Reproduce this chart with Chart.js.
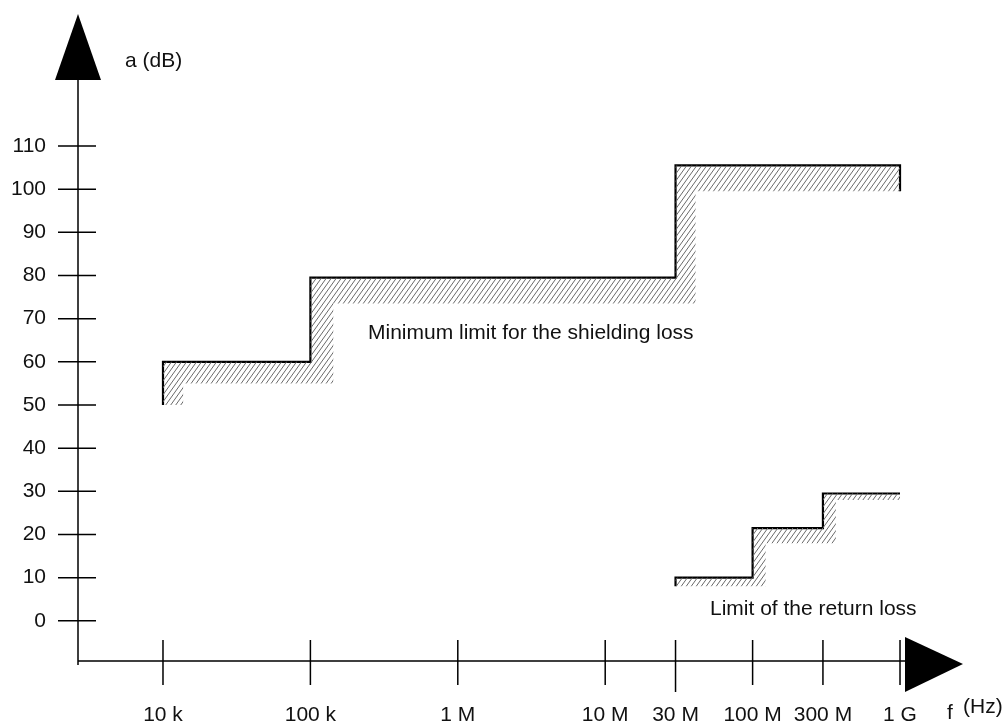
<!DOCTYPE html>
<html>
<head>
<meta charset="utf-8">
<script src="https://cdn.jsdelivr.net/npm/chart.js@4/dist/chart.umd.min.js"></script>
<style>
  html, body { margin: 0; padding: 0; background: #fff; }
  #wrap { width: 1006px; height: 724px; }
</style>
</head>
<body>
<div id="wrap"><canvas id="limitChart"></canvas></div>
<script>
// frequency ticks (Hz) and their labels
const freqTicks = [1e4, 1e5, 1e6, 1e7, 3e7, 1e8, 3e8, 1e9];
const freqLabels = ['10 k', '100 k', '1 M', '10 M', '30 M', '100 M', '300 M', '1 G'];
const dbTicks = [0, 10, 20, 30, 40, 50, 60, 70, 80, 90, 100, 110];

// minimum limit for the shielding loss (step line)
const shieldFreq = [1e4, 1e4, 1e5, 1e5, 3e7, 3e7, 1e9, 1e9];
const shieldLoss = [50, 60, 60, 79.5, 79.5, 105.5, 105.5, 99.5];
// inner edge of the hatched band, walking back
const shieldHatchFreq = [1e9, 4.1e7, 4.1e7, 1.43e5, 1.43e5, 1.37e4, 1.37e4];
const shieldHatchLoss = [99.5, 99.5, 73.5, 73.5, 55, 55, 50];

// limit of the return loss
const returnFreq = [3e7, 3e7, 1e8, 1e8, 3e8, 3e8, 1e9];
const returnLoss = [8, 10, 10, 21.5, 21.5, 29.5, 29.5];
const returnHatchFreq = [1e9, 3.67e8, 3.67e8, 1.225e8, 1.225e8];
const returnHatchLoss = [28, 28, 18, 18, 8];

const FONT = '"Liberation Sans", Arial, sans-serif';

function pts(xs, ys) {
    return xs.map((x, i) => ({x: x, y: ys[i]}));
}

// diagonal hatch pattern
function makeHatch() {
    const c = document.createElement('canvas');
    c.width = 5; c.height = 7;
    const g = c.getContext('2d');
    g.strokeStyle = '#6a6a6a';
    g.lineWidth = 1;
    for (let k = -1; k <= 1; k++) {
        g.beginPath();
        g.moveTo(k * 5, 7);
        g.lineTo(k * 5 + 5, 0);
        g.stroke();
    }
    return g.createPattern(c, 'repeat');
}
const hatch = makeHatch();

// axes with crossing ticks, arrows and free texts
const drawingPlugin = {
    id: 'drawing',
    afterDraw(chart) {
        const ctx = chart.ctx;
        const area = chart.chartArea;
        const xs = chart.scales.x, ys = chart.scales.y;
        ctx.save();
        ctx.strokeStyle = '#000';
        ctx.fillStyle = '#000';
        ctx.lineWidth = 1.5;

        // axes
        ctx.beginPath();
        ctx.moveTo(area.left, area.top);
        ctx.lineTo(area.left, area.bottom + 4);
        ctx.moveTo(area.left, area.bottom);
        ctx.lineTo(area.right, area.bottom);
        ctx.stroke();

        // y ticks
        ctx.beginPath();
        dbTicks.forEach(v => {
            const py = ys.getPixelForValue(v);
            ctx.moveTo(area.left - 20, py);
            ctx.lineTo(area.left + 18, py);
        });
        // x ticks
        freqTicks.forEach(f => {
            const px = xs.getPixelForValue(f);
            ctx.moveTo(px, area.bottom - 21);
            ctx.lineTo(px, area.bottom + (f === 3e7 ? 31 : 24));
        });
        ctx.stroke();

        // arrows
        ctx.beginPath();
        ctx.moveTo(area.left, 14);
        ctx.lineTo(area.left + 23, area.top);
        ctx.lineTo(area.left - 23, area.top);
        ctx.closePath();
        ctx.fill();
        ctx.beginPath();
        ctx.moveTo(area.right + 58, area.bottom + 3);
        ctx.lineTo(area.right, area.bottom - 24);
        ctx.lineTo(area.right, area.bottom + 31);
        ctx.closePath();
        ctx.fill();

        // texts
        ctx.font = '21px ' + FONT;
        ctx.textBaseline = 'middle';
        ctx.textAlign = 'left';
        ctx.fillStyle = '#111';
        ctx.fillText('a (dB)', 125, 61);
        ctx.fillText('Minimum limit for the shielding loss', 368, 333);
        ctx.fillText('Limit of the return loss', 710, 609);
        ctx.fillText('f', 947, 713);
        ctx.fillText('(Hz)', 963, 707);
        ctx.restore();
    }
};

const ctx = document.getElementById('limitChart').getContext('2d');
new Chart(ctx, {
    type: 'line',
    data: {
        datasets: [{
            // hatched band of the shielding loss
            data: pts(shieldFreq.concat(shieldHatchFreq), shieldLoss.concat(shieldHatchLoss)),
            borderWidth: 0,
            backgroundColor: hatch,
            fill: 'shape',
            pointRadius: 0
        }, {
            data: pts(returnFreq.concat(returnHatchFreq), returnLoss.concat(returnHatchLoss)),
            borderWidth: 0,
            backgroundColor: hatch,
            fill: 'shape',
            pointRadius: 0
        }, {
            label: 'Minimum limit for the shielding loss',
            data: pts(shieldFreq, shieldLoss),
            borderColor: '#000',
            borderWidth: 2.2,
            fill: false,
            pointRadius: 0
        }, {
            label: 'Limit of the return loss',
            data: pts(returnFreq, returnLoss),
            borderColor: '#000',
            borderWidth: 2.2,
            fill: false,
            pointRadius: 0
        }]
    },
    options: {
        responsive: true,
        maintainAspectRatio: false,
        animation: false,
        layout: { padding: { left: 0, top: 80, right: 101, bottom: 0 } },
        plugins: {
            legend: { display: false },
            tooltip: { enabled: false }
        },
        scales: {
            x: {
                type: 'logarithmic',
                min: 2651,
                max: 1.081e9,
                grid: { display: false },
                border: { display: false },
                afterBuildTicks: scale => {
                    scale.ticks = freqTicks.map(v => ({value: v}));
                },
                afterFit: scale => { scale.height = 63; },
                ticks: {
                    autoSkip: false,
                    maxRotation: 0,
                    padding: 34,
                    color: '#111',
                    font: { family: FONT, size: 21 },
                    callback: (value) => {
                        const i = freqTicks.indexOf(value);
                        return i >= 0 ? freqLabels[i] : '';
                    }
                }
            },
            y: {
                min: -9.3,
                max: 125.3,
                grid: { display: false },
                border: { display: false },
                afterBuildTicks: scale => {
                    scale.ticks = dbTicks.map(v => ({value: v}));
                },
                afterFit: scale => { scale.width = 78; },
                ticks: {
                    padding: 24,
                    color: '#111',
                    font: { family: FONT, size: 21 }
                }
            }
        }
    },
    plugins: [drawingPlugin]
});
</script>
</body>
</html>
